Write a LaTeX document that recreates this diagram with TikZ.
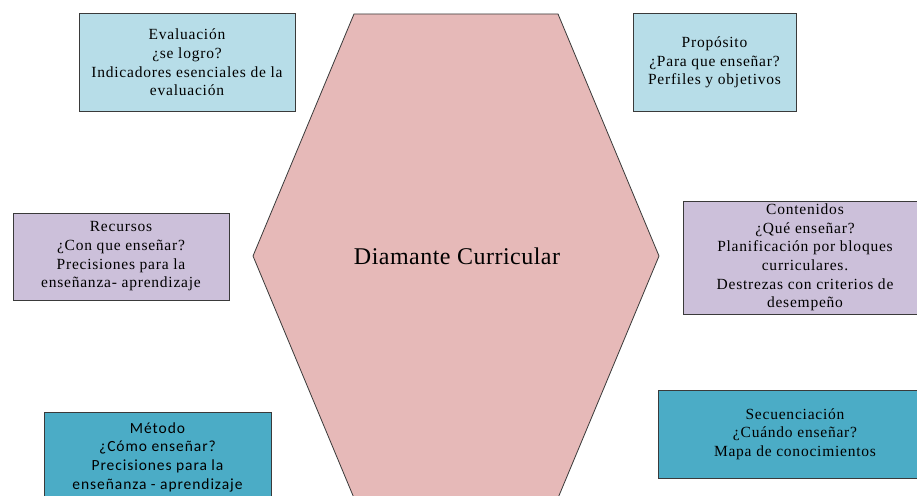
\documentclass[tikz,border=0pt]{standalone}
\usepackage{fontspec}
\setmainfont{Liberation Serif}[LetterSpace=5]
\newfontfamily\metfont{Carlito}[LetterSpace=6]
\newfontfamily\titlefont{Liberation Serif}[LetterSpace=2]
\definecolor{hexpink}{HTML}{E6B9B8}
\definecolor{lightblue}{HTML}{B7DDE8}
\definecolor{lavender}{HTML}{CCC0DA}
\definecolor{teal}{HTML}{4BACC6}
\definecolor{edge}{HTML}{3A3A3A}
\begin{document}
\begin{tikzpicture}[x=1pt,y=-1pt,
  box/.style={draw=edge, line width=1pt, inner sep=0pt, align=center,
    font=\fontsize{15.5}{18.7}\selectfont},
  hexa/.style={draw=edge, line width=0.8pt, fill=hexpink}]
\useasboundingbox (0,0) rectangle (917,495);
\clip (0,0) rectangle (917,495);
\fill[white] (0,0) rectangle (917,495);
\filldraw[hexa] (354,14) -- (558,14) -- (659,256) -- (558,498) -- (354,498) -- (253,256) -- cycle;
\node (center) at (457,256) {\titlefont\fontsize{24}{28}\selectfont Diamante Curricular};
\node[box, fill=lightblue, minimum width=216pt, minimum height=97pt] (eval) at (187,62.5)
  {Evaluación\\ ¿se logro?\\ Indicadores esenciales de la\\ evaluación};
\node[box, fill=lightblue, minimum width=163pt, minimum height=97pt] (prop) at (714.5,62.5)
  {Propósito\\ ¿Para que enseñar?\\ Perfiles y objetivos};
\node[box, fill=lavender, minimum width=216pt, minimum height=87pt] (rec) at (121,256.5)
  {Recursos\\ ¿Con que enseñar?\\ Precisiones para la\\ enseñanza- aprendizaje};
\node[box, fill=lavender, minimum width=244pt, minimum height=113pt] (cont) at (805,257.5)
  {Contenidos\\ ¿Qué enseñar?\\ Planificación por bloques\\ curriculares.\\ Destrezas con criterios de\\ desempeño};
\node[box, fill=teal, minimum width=227pt, minimum height=90pt,
  font=\metfont\fontsize{15.5}{18.7}\selectfont] (met) at (157.5,457)
  {Método\\ ¿Cómo enseñar?\\ Precisiones para la\\ enseñanza - aprendizaje};
\node[box, fill=teal, minimum width=274pt, minimum height=88pt] (sec) at (795,434)
  {Secuenciación\\ ¿Cuándo enseñar?\\ Mapa de conocimientos};
\end{tikzpicture}
\end{document}
